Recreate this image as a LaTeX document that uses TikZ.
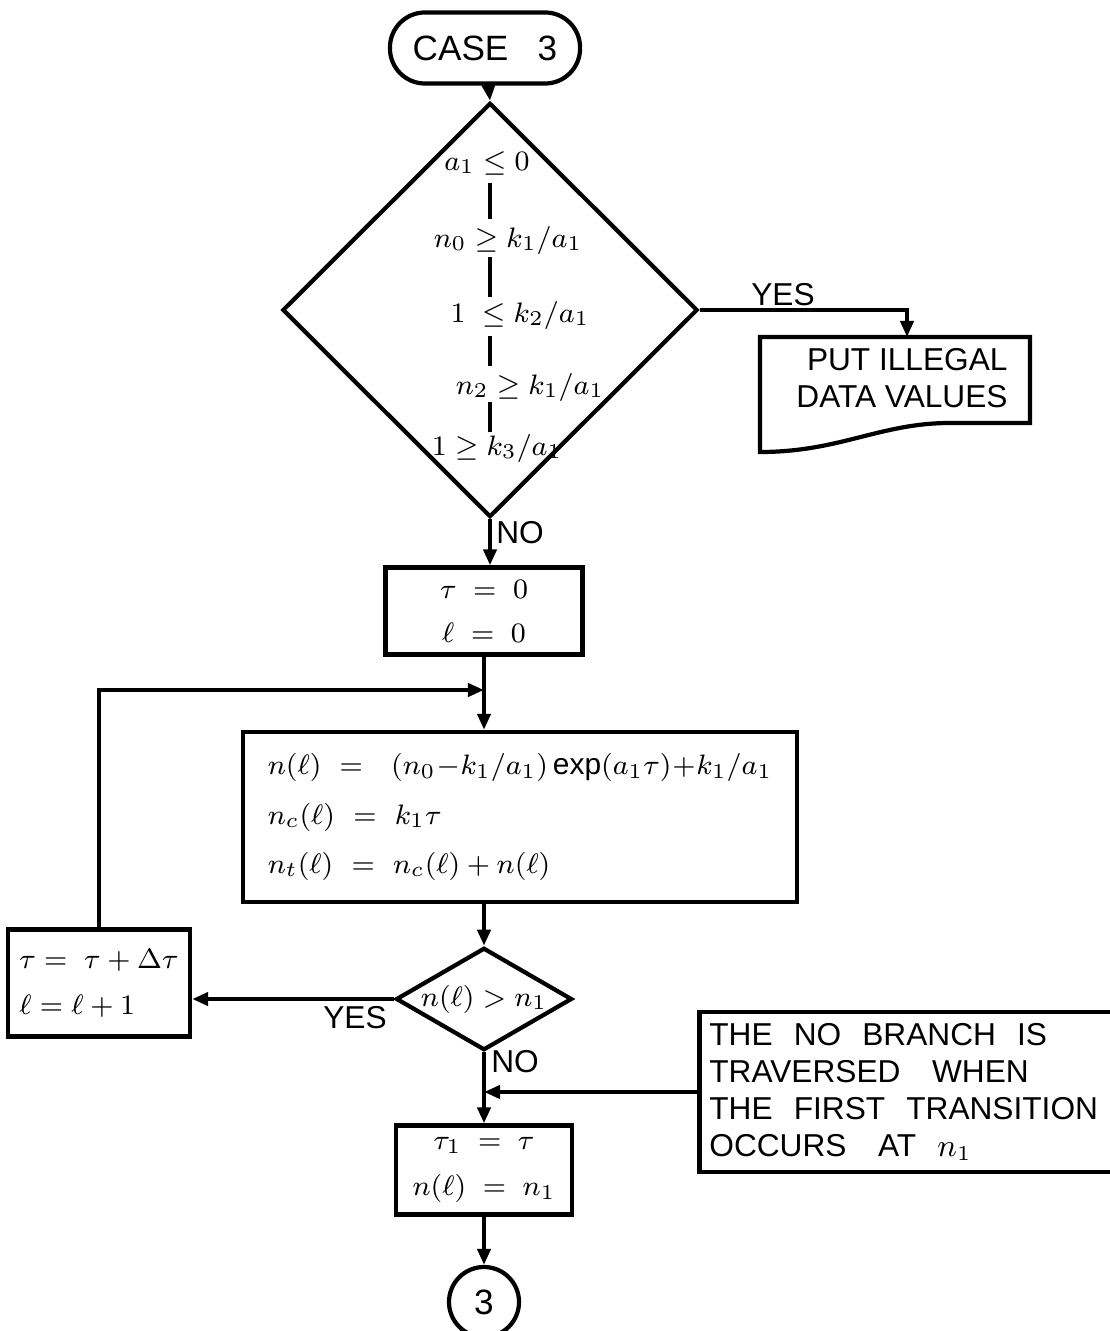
\documentclass[tikz,border=0pt]{standalone}
\usepackage{amsmath}
\usepackage{amssymb}
\usepackage{fontspec}
\setmainfont{Liberation Sans}
\usetikzlibrary{shapes.geometric,arrows.meta,calc}

\begin{document}
\begin{tikzpicture}[x=0.01cm,y=-0.01cm,line width=1.2pt,
  every node/.style={font=\fontsize{9}{10.5}\selectfont},
  mathtext/.style={font=\fontsize{8.5}{10}\selectfont},
  box/.style={draw,rectangle,inner sep=0pt},
  decide/.style={draw,diamond,inner sep=0pt},
  flow/.style={-{Triangle[length=0.16cm,width=0.13cm]}}]
  \useasboundingbox (0,0) rectangle (1110,1331);
  % start and validity test
  \node[box,rounded corners=0.35cm,minimum width=1.9cm,minimum height=0.71cm,
    font=\fontsize{10}{12}\selectfont] (case) at (485,48) {CASE\ \ \ 3};
  \node[decide,minimum width=4.15cm,minimum height=4.14cm] (test) at (490,310) {};
  \node[mathtext,inner sep=1pt] (c1) at (487,163) {$a_1 \leq 0$};
  \node[mathtext,inner sep=1pt] (c2) at (508,240) {$n_0 \geq k_1/a_1$};
  \node[mathtext,inner sep=1pt] (c3) at (520,315) {$1\ \leq k_2/a_1$};
  \node[mathtext,inner sep=1pt] (c4) at (530,387) {$n_2 \geq k_1/a_1$};
  \node[mathtext,inner sep=1pt] (c5) at (497,448) {$1 \geq k_3/a_1$};
  \foreach \a/\b/\h in {c1/c2/18,c2/c3/20,c3/c4/15,c4/c5/15} {
    \coordinate (mid) at ($(\a)!0.5!(\b)$);
    \draw ([yshift=\h*0.01cm]mid -| test.center) -- ([yshift=-\h*0.01cm]mid -| test.center);
  }
  \draw[flow] (case) -- (test.north);
  % illegal data output
  \draw (760,337) -- (1030,337) -- (1030,423) -- (950,423)
    .. controls (880,423) and (840,452) .. (760,452) -- cycle;
  \coordinate (illegaltop) at (907,337);
  \node[align=right] (illegal) at (902,378) {PUT ILLEGAL\\DATA VALUES};
  \draw[flow] (test.east) -| (illegaltop);
  \node at (783,295) {YES};
  % initialisation
  \node[box,mathtext,minimum width=1.97cm,minimum height=0.87cm,align=center] (init) at (484,611)
    {$\tau\ =\ 0$\\[2.5pt]$\ell\ =\ 0$};
  \draw[flow] (test.south) -- (test.south |- init.north);
  \node at (520,533) {NO};
  % main computation
  \node[box,mathtext,minimum width=5.54cm,minimum height=1.7cm,align=left,text width=5.04cm] (update) at (520,817)
    {$n(\ell)\ =\ \ (n_0 - k_1/a_1)\exp(a_1\tau) + k_1/a_1$\\[4pt]
     $n_c(\ell)\ =\ k_1\tau$\\[4pt]
     $n_t(\ell)\ =\ n_c(\ell) + n(\ell)$};
  \coordinate (join) at (484,690);
  \draw[flow] (init.south) -- (init.south |- update.north);
  % test on n
  \node[decide,mathtext,aspect=1.7,minimum width=1.76cm,minimum height=1.02cm] (check) at (484,999) {$n(\ell) > n_1$};
  \draw[flow] (check.north |- update.south) -- (check.north);
  % step forward
  \node[box,mathtext,minimum width=1.82cm,minimum height=1.07cm,align=left] (incr) at (99,983)
    {$\tau = \ \tau + \Delta\tau$\\[3pt]$\ell = \ell + 1$};
  \draw[flow] (check.west) -- (check.west -| incr.east);
  \node at (355,1018) {YES};
  \draw[flow] (incr.north) |- (join);
  % transition found
  \node[box,mathtext,minimum width=1.76cm,minimum height=0.89cm,align=center] (setone) at (484,1170)
    {$\tau_1\ =\ \tau$\\[3pt]$n(\ell)\ =\ n_1$};
  \draw[flow] (check.south) -- (setone.north);
  \node at (515,1062) {NO};
  \node[box,minimum width=4.15cm,minimum height=1.6cm,align=left,text width=3.95cm] (note) at (907,1092)
    {THE\ \ NO\ \ BRANCH\ \ IS\\TRAVERSED\ \ \ WHEN\\THE\ \ FIRST\ \ TRANSITION\\OCCURS\ \ \ AT\ \ $n_1$};
  \draw[flow] (note.west) -- (check.south |- note.west);
  \node[draw,circle,font=\fontsize{10}{12}\selectfont,minimum size=0.7cm,inner sep=0pt] (conn) at (484,1302) {3};
  \draw[flow] (setone.south) -- (conn.north);
\end{tikzpicture}
\end{document}
